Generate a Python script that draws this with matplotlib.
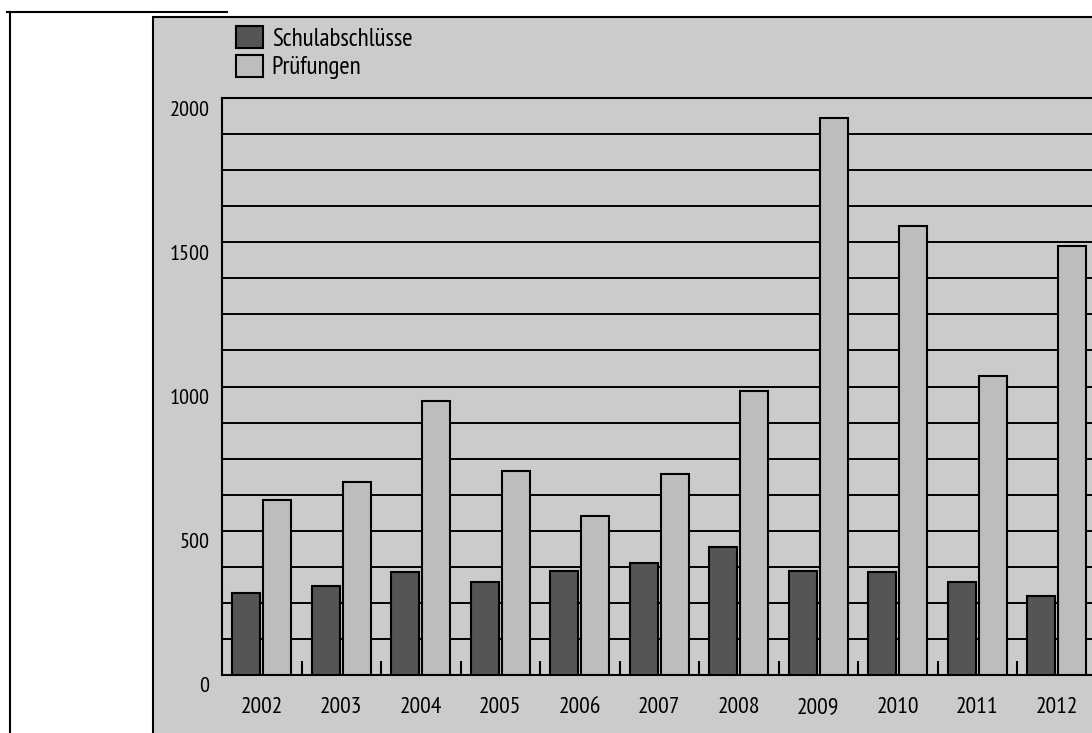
import matplotlib
matplotlib.use('Agg')
import matplotlib.pyplot as plt
import matplotlib.transforms as mtransforms
from matplotlib import font_manager
from matplotlib.patches import Rectangle
from matplotlib.lines import Line2D
import numpy as np

# ============================================
#              data
# ============================================

years = ['2002', '2003', '2004', '2005', '2006', '2007',
         '2008', '2009', '2010', '2011', '2012']
schulabschluesse = [285, 307, 358, 324, 361, 389, 443, 360, 358, 322, 275]
pruefungen = [607, 669, 949, 706, 550, 696, 983, 1932, 1556, 1035, 1488]
y_labels = [0, 500, 1000, 1500, 2000]

# narrow sans like the print, whichever is installed
installed = {f.name for f in font_manager.fontManager.ttflist}
narrow = [n for n in ['PT Sans Narrow', 'IBM Plex Sans Condensed'] if n in installed]
plt.rcParams['font.family'] = narrow + ['DejaVu Sans']

W, H = 1092, 733
fig = plt.figure(figsize=(W / 100, H / 100), dpi=100)
fig.patch.set_facecolor('white')

bg = '#cbcbcb'

# outer page lines (white margin)
fig.add_artist(Line2D([7 / W, 227 / W], [1 - 12 / H, 1 - 12 / H],
                      transform=fig.transFigure, color='black', lw=1.5))
fig.add_artist(Line2D([10 / W, 10 / W], [1 - 12 / H, 0],
                      transform=fig.transFigure, color='black', lw=1.5))

# stippled grey panel
fig.add_artist(Rectangle((153 / W, -0.05), 1.0, 1 - 17 / H + 0.05,
                         transform=fig.transFigure, facecolor=bg,
                         edgecolor='black', lw=1.5, zorder=0))

# axes: left 222px, baseline ~675px, top (2000) ~98px, 79.5px per year
ax = fig.add_axes([222 / W, (H - 675) / H, 11 * 79.5 / W, 577 / H])
ax.set_facecolor('none')

x = np.arange(len(years))
off, bw = 0.195, 0.355
ax.bar(x - off, schulabschluesse, bw, color='#555555', edgecolor='black',
       linewidth=1.5, label='Schulabschlüsse', zorder=3)
ax.bar(x + off, pruefungen, bw, color='#bdbdbd', edgecolor='black',
       linewidth=1.5, label='Prüfungen', zorder=3)

ax.set_xlim(-0.5, len(years) - 0.5)
ax.set_ylim(0, 2000)

# horizontal grid every 125
ax.set_yticks(y_labels)
ax.set_yticks(np.arange(0, 2001, 125), minor=True)
ax.yaxis.grid(True, which='both', color='black', lw=1.4)
ax.tick_params(axis='y', which='both', length=0, labelsize=16, pad=9)

# y labels sit a little below their lines in the print
shift = mtransforms.ScaledTranslation(0, -10 / 100, fig.dpi_scale_trans)
for lab in ax.get_yticklabels():
    lab.set_transform(lab.get_transform() + shift)

ax.set_xticks(x)
ax.set_xticklabels(years)
ax.set_xticks(x[:-1] + 0.5, minor=True)
ax.tick_params(axis='x', which='major', length=0, labelsize=17, pad=16)
ax.tick_params(axis='x', which='minor', direction='in', length=10,
               width=1.5, color='black')

for side in ['left', 'top', 'bottom']:
    ax.spines[side].set_linewidth(1.5)
ax.spines['right'].set_visible(False)

ax.legend(loc='upper left', bbox_to_anchor=(236 / W, 1 - 26 / H),
          bbox_transform=fig.transFigure, frameon=False, borderpad=0,
          borderaxespad=0, fontsize=18, handlelength=1.08,
          handleheight=1.0, handletextpad=0.35, labelspacing=0.15)

fig.savefig('out.png', dpi=100, facecolor='white')
